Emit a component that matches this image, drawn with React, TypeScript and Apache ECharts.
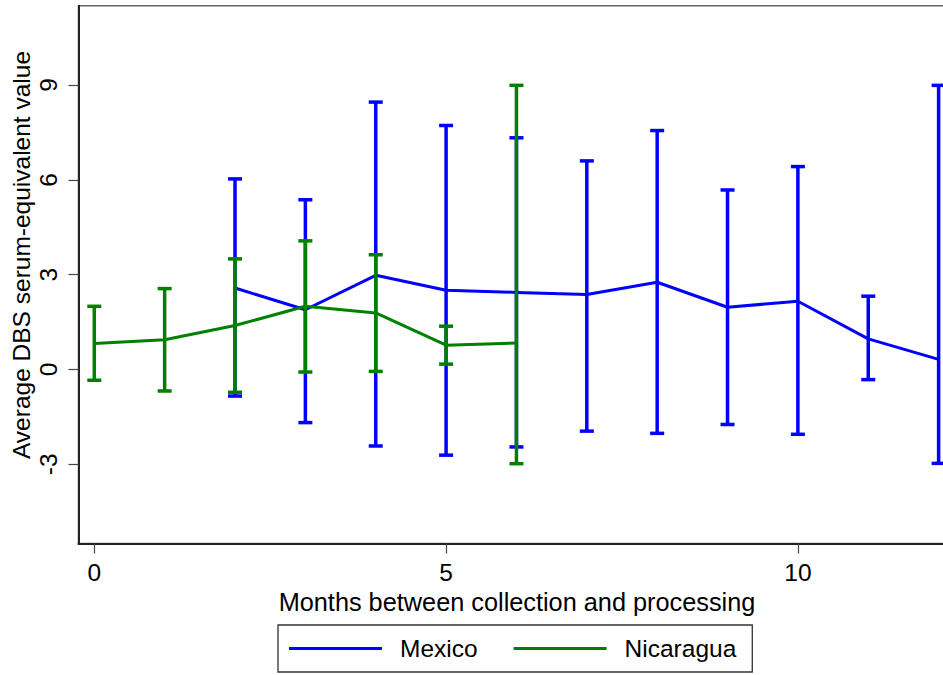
import React, { useEffect, useRef } from "react";
import * as echarts from "echarts";

const mexicoMonths = [2, 3, 4, 5, 6, 7, 8, 9, 10, 11, 12];
const mexicoMean = [2.58, 1.89, 2.98, 2.51, 2.44, 2.37, 2.76, 1.97, 2.16, 0.97, 0.32];
const mexicoUpper = [6.03, 5.37, 8.46, 7.72, 7.33, 6.6, 7.56, 5.68, 6.42, 2.32, 8.99];
const mexicoLower = [-0.84, -1.68, -2.42, -2.71, -2.45, -1.95, -2.02, -1.74, -2.05, -0.32, -2.97];

const nicaraguaMonths = [0, 1, 2, 3, 4, 5, 6];
const nicaraguaMean = [0.82, 0.94, 1.39, 2.0, 1.79, 0.77, 0.84];
const nicaraguaUpper = [2.0, 2.56, 3.5, 4.07, 3.63, 1.37, 8.99];
const nicaraguaLower = [-0.34, -0.68, -0.72, -0.08, -0.06, 0.17, -2.98];

const xTicks = [0, 5, 10];
const yTicks = [-3, 0, 3, 6, 9];

const BLUE = "#0000FF";
const GREEN = "#008000";
const FONT = "'Liberation Sans', Arial, Helvetica, sans-serif";

const renderCI = (color: string) => (params: any, api: any) => {
  const x = api.value(0);
  const lo = api.value(1);
  const hi = api.value(2);
  const pLo = api.coord([x, lo]);
  const pHi = api.coord([x, hi]);
  const hw = 7;
  const style = { stroke: color, lineWidth: 3.5 };
  return {
    type: "group",
    children: [
      { type: "line", shape: { x1: pLo[0], y1: pLo[1], x2: pHi[0], y2: pHi[1] }, style },
      { type: "line", shape: { x1: pLo[0] - hw, y1: pLo[1], x2: pLo[0] + hw, y2: pLo[1] }, style },
      { type: "line", shape: { x1: pHi[0] - hw, y1: pHi[1], x2: pHi[0] + hw, y2: pHi[1] }, style },
    ],
  };
};

export default function App() {
  const ref = useRef<HTMLDivElement>(null);
  useEffect(() => {
    if (!ref.current) return;
    const chart = echarts.init(ref.current, null, { renderer: "svg" });
    const mexCI = mexicoMonths.map((m, i) => [m, mexicoLower[i], mexicoUpper[i]]);
    const nicCI = nicaraguaMonths.map((m, i) => [m, nicaraguaLower[i], nicaraguaUpper[i]]);
    const mexLine = mexicoMonths.map((m, i) => [m, mexicoMean[i]]);
    const nicLine = nicaraguaMonths.map((m, i) => [m, nicaraguaMean[i]]);
    chart.setOption({
      animation: false,
      backgroundColor: "#fff",
      textStyle: { fontFamily: FONT },
      grid: {
        left: 78.5,
        top: 5.7,
        width: 877,
        height: 537.8,
        show: true,
        borderColor: "#666",
        borderWidth: 1.5,
        outerBoundsMode: "none",
        containLabel: false,
      },
      xAxis: {
        type: "value",
        min: -0.2245,
        max: 12.24,
        name: "Months between collection and processing",
        nameLocation: "middle",
        nameGap: 39,
        nameTextStyle: { fontSize: 25.3, color: "#000", fontFamily: FONT },
        axisLine: { onZero: false, lineStyle: { color: "#222", width: 2 } },
        axisTick: { show: true, length: 10, customValues: xTicks, lineStyle: { color: "#444", width: 1.2 } },
        axisLabel: { customValues: xTicks, fontSize: 24.5, color: "#000", margin: 16, fontFamily: FONT },
        splitLine: { show: false },
      },
      yAxis: {
        type: "value",
        min: -5.505,
        max: 11.51,
        axisLine: { show: true, onZero: false, lineStyle: { color: "#222", width: 2 } },
        axisTick: { show: true, length: 10, customValues: yTicks, lineStyle: { color: "#444", width: 1.2 } },
        axisLabel: { customValues: yTicks, rotate: 90, fontSize: 24.5, color: "#000", margin: 18, fontFamily: FONT },
        splitLine: { show: false },
      },
      legend: {
        data: [
          { name: "Mexico", icon: "rect", itemStyle: { color: BLUE } },
          { name: "Nicaragua", icon: "rect", itemStyle: { color: GREEN } },
        ],
        left: 278,
        top: 625,
        orient: "horizontal",
        padding: [11, 16, 11, 11],
        itemGap: 36,
        itemWidth: 93,
        itemHeight: 3,
        borderColor: "#333",
        borderWidth: 1.3,
        textStyle: { fontSize: 24.5, color: "#000", lineHeight: 25, padding: [0, 0, 0, 13], fontFamily: FONT },
        selectedMode: false,
      },
      graphic: [
        {
          type: "text",
          x: 21.5,
          y: 255,
          rotation: Math.PI / 2,
          style: {
            text: "Average DBS serum-equivalent value",
            fontSize: 24.5,
            fontFamily: FONT,
            fill: "#000",
            align: "center",
            verticalAlign: "middle",
          },
        },
      ],
      series: [
        { name: "Mexico CI", type: "custom", renderItem: renderCI(BLUE), data: mexCI, z: 2, clip: false },
        {
          name: "Mexico",
          type: "line",
          data: mexLine,
          symbol: "none",
          lineStyle: { color: BLUE, width: 3 },
          itemStyle: { color: BLUE },
          z: 3,
        },
        { name: "Nicaragua CI", type: "custom", renderItem: renderCI(GREEN), data: nicCI, z: 4, clip: false },
        {
          name: "Nicaragua",
          type: "line",
          data: nicLine,
          symbol: "none",
          lineStyle: { color: GREEN, width: 3 },
          itemStyle: { color: GREEN },
          z: 5,
        },
      ],
    });
    return () => chart.dispose();
  }, []);
  return (
    <div
      ref={ref}
      style={{ position: "fixed", left: 0, top: 0, width: 943, height: 675, background: "#fff" }}
    />
  );
}
